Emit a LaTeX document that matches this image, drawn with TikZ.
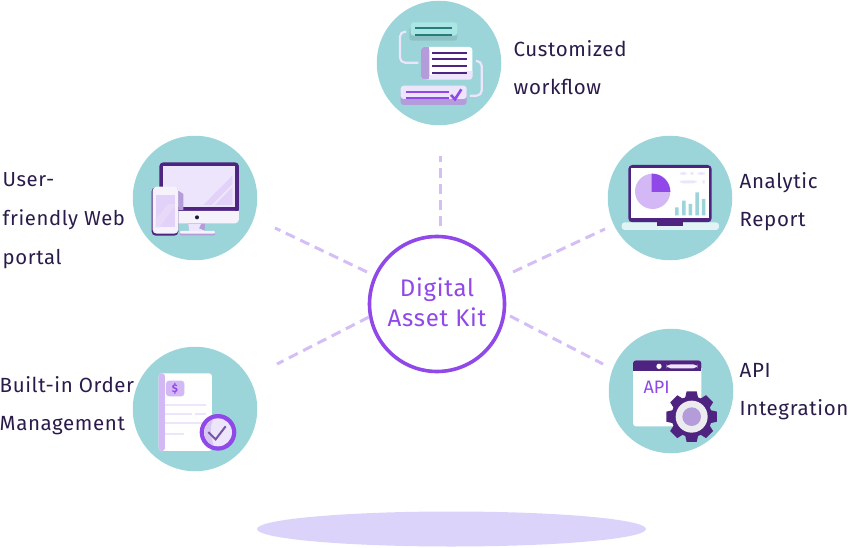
\documentclass[tikz,border=0pt]{standalone}
\usepackage{fontspec}
\usetikzlibrary{shapes.geometric}
\setmainfont{Fira Sans}[LetterSpace=3]
\definecolor{teal}{HTML}{9BD5D9}
\definecolor{ink}{HTML}{2A1B4B}
\definecolor{dk}{HTML}{4E2480}
\definecolor{vio}{HTML}{9048E8}
\definecolor{lil}{HTML}{D4B8F5}
\definecolor{mau}{HTML}{B49CDB}
\definecolor{pale}{HTML}{EDE5FB}
\definecolor{snow}{HTML}{F6F2FC}
\definecolor{dash}{HTML}{D5BEF6}
\definecolor{floor}{HTML}{DCD3FB}
\definecolor{mint}{HTML}{A9E6E4}
\definecolor{mintdk}{HTML}{8DC2C4}
\definecolor{pine}{HTML}{2B7A7C}
\tikzset{
  iconbg/.style={circle,fill=teal,minimum size=124.5pt,inner sep=0pt},
  lbl/.style={anchor=west,inner sep=0pt,align=left,text=ink,font=\fontsize{20.5}{38}\selectfont},
  conn/.style={draw=dash,line width=3pt,dash pattern=on 10pt off 6pt},
  icon/.style={x=0.3333pt,y=-0.3333pt},
}
\begin{document}
\begin{tikzpicture}[x=1pt,y=-1pt]
\useasboundingbox (0,0) rectangle (848,548);
\node[ellipse,fill=floor,minimum width=389pt,minimum height=35pt,inner sep=0pt] (shadow) at (451.5,529) {};
% icon backgrounds
\node[iconbg] (flow) at (439,63) {};
\node[iconbg] (portal) at (195,198) {};
\node[iconbg] (report) at (670,198) {};
\node[iconbg] (order) at (195,409) {};
\node[iconbg] (api) at (671,391) {};
\node[circle,draw=vio,line width=3.6pt,fill=white,minimum size=135pt,inner sep=0pt] (hub) at (437,304) {};
\node[inner sep=0pt,text=vio,align=center,font=\fontsize{24}{30}\selectfont] (hubtext) at (437,302.5) {Digital\\Asset Kit};
% connector ends
\coordinate (a1) at (440,226); \coordinate (a2) at (440,156);
\coordinate (b1) at (367,272); \coordinate (b2) at (275,228);
\coordinate (c1) at (513,272); \coordinate (c2) at (605,229);
\coordinate (d1) at (369,317); \coordinate (d2) at (277,364);
\coordinate (e1) at (510,316); \coordinate (e2) at (603,364);
\draw[conn] (a1) -- (a2);
\draw[conn] (b1) -- (b2);
\draw[conn] (c1) -- (c2);
\draw[conn] (d1) -- (d2);
\draw[conn] (e1) -- (e2);
% labels
\node[lbl] (t1) at (513.5,68) {Customized\\workflow};
\node[lbl,font=\fontsize{20.3}{39}\selectfont] (t2) at (2.5,221) {User-\\friendly Web\\portal};
\node[lbl] (t3) at (739.5,202) {Analytic\\Report};
\node[lbl] (t4) at (-0.5,406) {Built-in Order\\Management};
\node[lbl] (t5) at (739.5,392) {API\\Integration};
% workflow icon
\begin{scope}[shift={(370,0)},icon]
 \draw[pale,line width=2.2pt,rounded corners=5pt] (108,95) -- (90,95) -- (90,188) -- (145,188);
 \draw[pale,line width=2.2pt,rounded corners=5pt] (318,183) -- (335,183) -- (335,287) -- (300,287);
 \fill[rounded corners=3pt,fill=mintdk] (118,80) rectangle (262,122);
 \fill[rounded corners=3pt,fill=mint] (122,67) rectangle (262,107);
 \draw[line width=2.2pt,color=pine] (135,85) -- (245,85) (135,104) -- (245,104);
 \fill[rounded corners=3pt,fill=white] (153,141) rectangle (307,238);
 \fill[fill=pale] (178,238) -- (178,225) -- (307,212) -- (307,232) -- (302,238) -- cycle;
 \fill[rounded corners=3pt,fill=mau] (153,141) rectangle (178,238);
 \fill[mau] (170,141) rectangle (178,238);
 \draw[dk,line width=2.2pt] (186,158) -- (292,158) (186,178) -- (292,178) (186,198) -- (292,198) (186,218) -- (292,218);
 \fill[rounded corners=3pt,fill=mau] (92,270) rectangle (290,315);
 \fill[rounded corners=3pt,fill=pale] (92,257) rectangle (290,297);
 \draw[vio,line width=2.2pt] (107,275) -- (238,275) (107,295) -- (238,295);
 \draw[vio,line width=2.6pt] (243,285) -- (255,298) -- (274,268);
\end{scope}
% portal icon
\begin{scope}[shift={(125,130)},icon]
 \fill[mau] (190,280) -- (240,280) -- (240,290) -- (238,303) -- (192,303) -- cycle;
 \fill[pale] (190,282) -- (228,282) -- (222,295) -- (240,303) -- (192,303) -- cycle;
 \fill[mau,rounded corners=1pt] (165,305) rectangle (270,316);
 \fill[snow,rounded corners=1pt] (165,303) rectangle (270,311);
 \fill[dk,rounded corners=4pt] (103,97) rectangle (342,250);
 \fill[snow,rounded corners=4pt] (103,243) rectangle (342,280);
 \fill[snow] (103,243) rectangle (342,255);
 \fill[pale] (115,108) rectangle (330,232);
 \fill[lil!45!pale] (235,225) -- (322,137) -- (322,162) -- (260,225) -- cycle;
 \fill[lil!45!pale] (270,225) -- (322,172) -- (322,225) -- cycle;
 \fill[ink!80!black] (216,262) circle[radius=6];
 \fill[mau] (160,182) -- (175,192) -- (175,240) -- (160,240) -- cycle;
 \fill[dk,rounded corners=4pt] (80,172) rectangle (160,317);
 \fill[snow,rounded corners=4pt] (83,170) rectangle (160,311);
 \fill[lil!45!pale] (92,195) rectangle (150,292);
 \fill[lil!25!pale] (92,268) -- (130,222) -- (150,222) -- (150,228) -- (103,292) -- (92,292) -- cycle;
\end{scope}
% report icon
\begin{scope}[shift={(600,130)},icon]
 \fill[dk,rounded corners=4pt] (85,105) rectangle (335,277);
 \fill[white] (93,115) rectangle (328,265);
 \fill[teal!30!white,rounded corners=3pt] (65,277) rectangle (357,300);
 \fill[dk] (170,275) rectangle (250,287);
 \fill[lil] (158,184) circle[radius=53];
 \fill[vio] (155,131) -- (155,186) -- (211,186) arc[start angle=0,end angle=-90,radius=55] -- cycle;
 \fill[teal] (225,232) rectangle (236,256) (246,212) rectangle (257,256) (266,222) rectangle (276,256) (286,187) rectangle (297,256) (306,207) rectangle (316,256);
 \fill[pale,rounded corners=3pt] (240,126) rectangle (260,135) (272,126) rectangle (280,135) (293,126) rectangle (315,135) (240,151) rectangle (290,160) (307,151) rectangle (315,160);
\end{scope}
% order icon
\begin{scope}[shift={(125,342)},icon]
 \fill[white,rounded corners=3pt] (101,94) rectangle (261,327);
 \fill[lil,rounded corners=3pt] (101,94) rectangle (120,327);
 \fill[lil,rounded corners=3pt] (123,116) rectangle (178,163);
 \node[inner sep=0pt,text=vio,font=\fontsize{11}{12}\selectfont\bfseries] (dollar) at (150,141) {\$};
 \draw[pale,line width=2.2pt] (120,188) -- (243,188) (120,215) -- (202,215) (210,215) -- (243,215) (120,243) -- (235,243) (120,277) -- (178,277);
 \fill[vio] (279,271) circle[radius=55];
 \fill[pale] (279,271) circle[radius=42];
 \fill[lil!50!mau!50!pale] (265,232) arc[start angle=250,end angle=110,radius=42] .. controls (262,290) and (250,260) .. (265,232) -- cycle;
 \draw[mau!40!dk,line width=2pt] (250,270) -- (272,292) -- (302,253);
\end{scope}
% api icon
\begin{scope}[shift={(600,325)},icon]
 \fill[white,rounded corners=3pt] (99,106) rectangle (304,304);
 \fill[dk,rounded corners=3pt] (99,106) rectangle (304,137);
 \fill[dk] (99,125) rectangle (304,137);
 \fill[white] (177,124) circle[radius=8];
 \fill[pale,rounded corners=4pt] (200,118) rectangle (292,130);
 \node[inner sep=0pt,text=vio,font=\fontsize{18}{20}\selectfont\addfontfeature{LetterSpace=0}] (apiword) at (170,187) {API};
 \foreach \a in {0,45,...,315}{
  \fill[dk,rotate around={\a:(275,275)}] (260,199) -- (290,199) -- (296,225) -- (254,225) -- cycle;
 }
 \fill[dk] (275,275) circle[radius=61];
 \fill[pale!60!gray!30!white] (275,275) circle[radius=48];
 \fill[mau] (275,275) circle[radius=28];
\end{scope}
\end{tikzpicture}
\end{document}
